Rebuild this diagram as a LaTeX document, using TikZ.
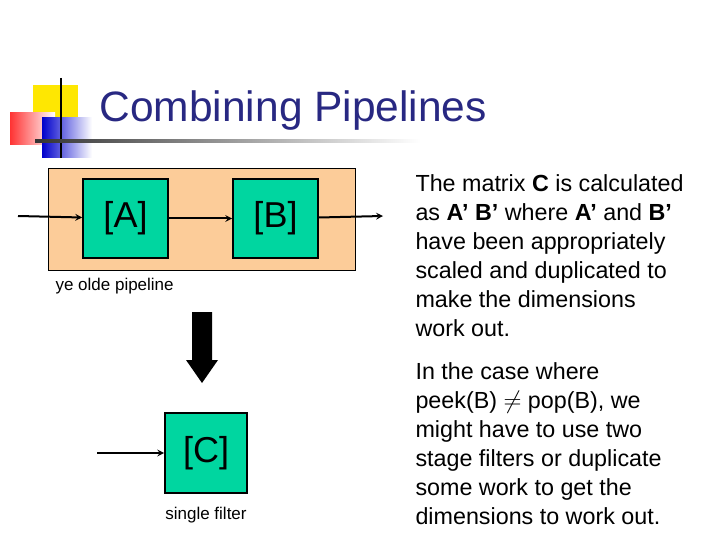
\documentclass[tikz,border=0pt]{standalone}
\usepackage{fontspec}
\setmainfont{Liberation Sans}
\usetikzlibrary{positioning}
\definecolor{titleblue}{RGB}{40,40,130}
\definecolor{peach}{RGB}{252,204,153}
\definecolor{filtergreen}{RGB}{0,214,160}
\tikzset{
	filter/.style={draw,line width=1.6pt,fill=filtergreen,minimum width=85pt,minimum height=79pt,font=\fontsize{36}{38}\selectfont},
	flow/.style={->,line width=2pt,>=stealth},
	caption/.style={font=\fontsize{17}{19}\selectfont},
	explain/.style={anchor=north west,align=left,font=\fontsize{23.3}{29}\selectfont},
}
\begin{document}
\begin{tikzpicture}[x=1pt,y=-1pt]
	\useasboundingbox (0,0) rectangle (720,540);
	% title decoration
	\fill[yellow!90!orange] (33,85) rectangle (78,130);
	\shade[left color=red!80,right color=white] (10,113) rectangle (55,145);
	\shade[left color=blue!80!black,right color=white] (42,118) rectangle (92,158);
	\draw[line width=2pt] (61,78) -- (61,158);
	\shade[left color=black!80,right color=white] (35,140) rectangle (420,142.5);
	\node (title)[anchor=west,text=titleblue,font=\fontsize{42.5}{46}\selectfont] at (96,111){Combining Pipelines};

	% ye olde pipeline
	\node (pipe)[draw,fill=peach,minimum width=307pt,minimum height=102pt,anchor=north west] at (48,168){};
	\node (probA)[filter] at (125.5,218.5){[A]};
	\node (probB)[filter] at (275.5,218.5){[B]};
	\coordinate (inA) at (18,216);
	\coordinate (outB) at (383,216);
	\node (olde)[caption,anchor=west] at (52,286){ye olde pipeline};

	% combined
	\node (probC)[filter,minimum width=82pt,minimum height=80pt] at (206,453){[C]};
	\coordinate (inC) at (97,453);
	\node (single)[caption,below=10pt of probC]{single filter};

	% draw the connections
	\draw[flow] (inA)--(probA);
	\draw[flow] (probA)--(probB);
	\draw[flow] (probB)--(outB);
	\draw[flow] (inC)--(probC);
	\fill (192,312) -- (212,312) -- (212,360) -- (218,360) -- (202,383) -- (186,360) -- (192,360) -- cycle;

	% explanation
	\node (textI)[explain] at (412,171){The matrix \textbf{C} is calculated\\as \textbf{A’ B’} where \textbf{A’} and \textbf{B’}\\have been appropriately\\scaled and duplicated to\\make the dimensions\\work out.};
	\node (textII)[explain] at (412,359){In the case where\\peek(B) $\neq$ pop(B), we\\might have to use two\\stage filters or duplicate\\some work to get the\\dimensions to work out.};
\end{tikzpicture}
\end{document}
